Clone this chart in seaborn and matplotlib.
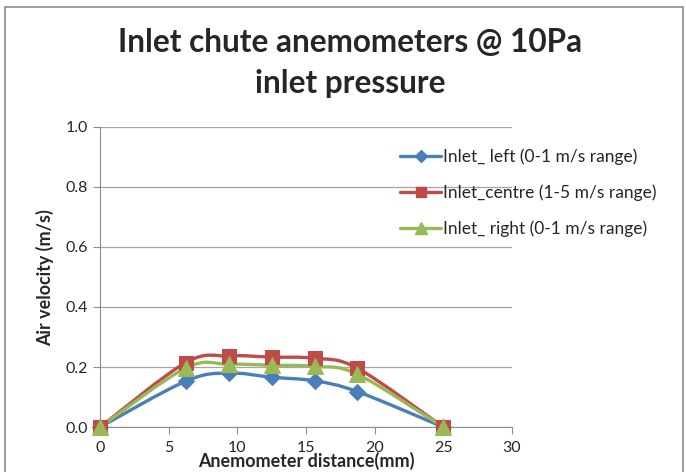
import numpy as np
import pandas as pd
import matplotlib
matplotlib.use("Agg")
import matplotlib.pyplot as plt
import seaborn as sns
from matplotlib.path import Path
from matplotlib.patches import PathPatch, Rectangle
from matplotlib.lines import Line2D

# data
distance = [0, 6.25, 9.375, 12.5, 15.625, 18.75, 25]
inlet_left = [0.0, 0.153, 0.180, 0.166, 0.154, 0.118, 0.0]
inlet_centre = [0.0, 0.215, 0.237, 0.233, 0.229, 0.196, 0.0]
inlet_right = [0.0, 0.197, 0.209, 0.206, 0.202, 0.176, 0.0]
labels = ["Inlet_ left (0-1 m/s range)",
          "Inlet_centre (1-5 m/s range)",
          "Inlet_ right (0-1 m/s range)"]
colors = ["#4A7EBB", "#BE4B48", "#98B954"]
markers = ["D", "s", "^"]
msizes = [8, 9.5, 11]

df = pd.DataFrame({"distance": distance * 3,
                   "velocity": inlet_left + inlet_centre + inlet_right,
                   "series": [labels[0]] * 7 + [labels[1]] * 7 + [labels[2]] * 7})

sns.set_style("white")
plt.rcParams["font.family"] = ["Lato", "DejaVu Sans"]

fig = plt.figure(figsize=(6.86, 4.72), dpi=100)
ax = fig.add_axes([0.146, 0.0953, 0.6, 0.6357])


def smooth_path(xs, ys):
    # Excel-style smoothed line as cubic bezier segments
    pts = np.column_stack([xs, ys]).astype(float)
    ext = np.vstack([pts[0], pts, pts[-1]])
    verts = [tuple(pts[0])]
    codes = [Path.MOVETO]
    for i in range(len(pts) - 1):
        p0, p1, p2, p3 = ext[i], ext[i + 1], ext[i + 2], ext[i + 3]
        c1 = p1 + (p2 - p0) / 6.0
        c2 = p2 - (p3 - p1) / 6.0
        verts += [tuple(c1), tuple(c2), tuple(p2)]
        codes += [Path.CURVE4] * 3
    return Path(verts, codes)


def fit_size(texts, target_px, vertical=False):
    # scale font so the first text spans target_px (Calibri metrics differ from Lato)
    fig.canvas.draw()
    bb = texts[0].get_window_extent(fig.canvas.get_renderer())
    span = bb.height if vertical else bb.width
    size = texts[0].get_fontsize() * target_px / span
    for t in texts:
        t.set_fontsize(size)


handles = []
for lab, col, mk, ms in zip(labels, colors, markers, msizes):
    sub = df[df["series"] == lab]
    ax.add_patch(PathPatch(smooth_path(sub["distance"], sub["velocity"]),
                           facecolor="none", edgecolor=col, lw=2.4, zorder=3,
                           clip_on=False))
    sns.lineplot(data=sub, x="distance", y="velocity", ax=ax, color=col,
                 marker=mk, markersize=ms, markeredgecolor=col, linewidth=0,
                 legend=False, zorder=4, clip_on=False)
    handles.append(Line2D([], [], color=col, lw=2.4, marker=mk, markersize=ms * 0.75,
                          markeredgecolor=col))

ax.set_xlabel("")
ax.set_ylabel("")
ax.set_xlim(0, 30)
ax.set_ylim(0, 1.0)
ax.set_xticks(range(0, 31, 5))
ax.set_yticks(np.arange(0, 1.01, 0.2))
ax.yaxis.set_major_formatter(matplotlib.ticker.FormatStrFormatter("%.1f"))
ax.grid(axis="y", color="#A6A6A6", lw=0.9)
ax.grid(axis="x", visible=False)
for s in ["top", "right"]:
    ax.spines[s].set_visible(False)
for s in ["left", "bottom"]:
    ax.spines[s].set_color("#8C8C8C")
ax.tick_params(axis="both", direction="out", length=5, color="#8C8C8C",
               labelsize=11.5, left=True, bottom=True)
ax.tick_params(axis="x", pad=5)
ax.tick_params(axis="y", pad=4)

xl = fig.text(306 / 686, 1 - 461 / 472, "Anemometer distance(mm)", ha="center",
              va="center", fontsize=12.5, fontweight="bold")
yl = fig.text(45 / 686, 1 - 278 / 472, "Air velocity (m/s)", ha="center",
              va="center", rotation=90, fontsize=12, fontweight="bold")
fit_size([xl], 215)
fit_size([yl], 135, vertical=True)

# title, two centred lines
t1 = fig.text(350 / 686, 1 - 43 / 472, "Inlet chute anemometers @ 10Pa", ha="center",
              va="center", fontsize=17.5, fontweight="bold")
t2 = fig.text(350 / 686, 1 - 84 / 472, "inlet pressure", ha="center", va="center",
              fontsize=17.5, fontweight="bold")
fit_size([t1, t2], 464)

leg = ax.legend(handles, labels, loc="upper left", bbox_to_anchor=(0.711, 0.95),
                frameon=False, fontsize=12.5, handlelength=2.4, handletextpad=0.1,
                labelspacing=1.1, borderaxespad=0)
fit_size(leg.get_texts(), 195)

fig.add_artist(Rectangle((0.007, -0.1), 0.988, 1.085, transform=fig.transFigure,
                         facecolor="none", edgecolor="#8C8C8C", lw=1.2))

fig.savefig("out.png", dpi=100)
